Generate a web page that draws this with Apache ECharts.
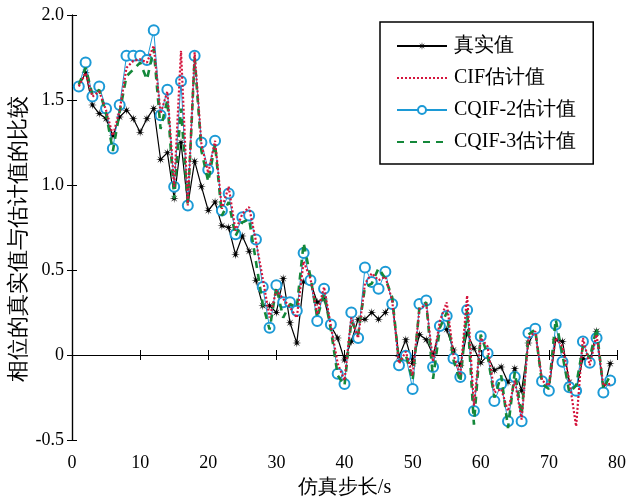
<!DOCTYPE html>
<html>
<head>
<meta charset="utf-8">
<script src="https://cdn.jsdelivr.net/npm/echarts@6/dist/echarts.min.js"></script>
<style>
  html, body { margin: 0; padding: 0; background: #fff; }
  #chart { width: 641px; height: 499px; }
</style>
</head>
<body>
<div id="chart"></div>
<script>
// 真实值
const trueVals = [
  1.58, 1.66, 1.47, 1.42, 1.39, 1.29, 1.40, 1.44, 1.39, 1.31,
  1.39, 1.45, 1.15, 1.19, 0.92, 1.25, 0.88, 1.14, 0.99, 0.85,
  0.90, 0.76, 0.75, 0.59, 0.70, 0.61, 0.44, 0.29, 0.29, 0.25,
  0.45, 0.19, 0.07, 0.43, 0.43, 0.31, 0.33, 0.17, 0.10, -0.03,
  0.08, 0.21, 0.21, 0.25, 0.21, 0.25, 0.31, -0.01, 0.09, -0.05,
  0.12, 0.09, 0.00, 0.16, 0.15, 0.03, -0.06, 0.13, 0.04, -0.045,
  -0.005, -0.09, -0.07, -0.16, -0.08, -0.21, 0.07, 0.14, -0.15, -0.20,
  0.09, 0.08, -0.16, -0.21, -0.02, -0.04, 0.14, -0.21, -0.05
];
// CIF估计值
const cifVals = [
  1.58, 1.66, 1.52, 1.55, 1.44, 1.29, 1.44, 1.69, 1.73, 1.74,
  1.72, 1.82, 1.42, 1.55, 0.99, 1.79, 0.88, 1.78, 1.24, 1.07,
  1.26, 0.86, 0.99, 0.73, 0.83, 0.87, 0.67, 0.45, 0.22, 0.38,
  0.33, 0.28, 0.22, 0.55, 0.45, 0.24, 0.40, 0.17, -0.05, -0.15,
  0.22, 0.10, 0.42, 0.48, 0.44, 0.46, 0.32, -0.05, 0.02, -0.12,
  0.27, 0.30, -0.04, 0.20, 0.31, 0.00, -0.12, 0.35, -0.30, 0.10,
  0.05, -0.22, -0.20, -0.33, -0.15, -0.38, 0.10, 0.14, -0.15, -0.18,
  0.10, 0.05, -0.15, -0.42, 0.10, -0.06, 0.12, -0.18, -0.17
];
// CQIF-2估计值
const cqif2Vals = [
  1.58, 1.72, 1.52, 1.58, 1.45, 1.215, 1.47, 1.76, 1.76, 1.76,
  1.735, 1.91, 1.41, 1.56, 0.99, 1.61, 0.88, 1.76, 1.25, 1.09,
  1.26, 0.85, 0.95, 0.71, 0.81, 0.82, 0.68, 0.40, 0.16, 0.41,
  0.31, 0.31, 0.26, 0.60, 0.44, 0.20, 0.39, 0.18, -0.11, -0.17,
  0.25, 0.10, 0.515, 0.43, 0.39, 0.49, 0.30, -0.06, -0.005, -0.20,
  0.30, 0.32, -0.07, 0.17, 0.23, -0.02, -0.13, 0.265, -0.33, 0.11,
  0.01, -0.27, -0.17, -0.39, -0.13, -0.39, 0.13, 0.155, -0.155, -0.21,
  0.18, -0.04, -0.19, -0.21, 0.08, -0.045, 0.10, -0.22, -0.15
];
// CQIF-3估计值
const cqif3Vals = [
  1.59, 1.69, 1.53, 1.56, 1.42, 1.20, 1.43, 1.64, 1.68, 1.72,
  1.62, 1.80, 1.33, 1.50, 0.92, 1.45, 0.88, 1.75, 1.20, 1.02,
  1.24, 0.82, 0.90, 0.70, 0.78, 0.80, 0.55, 0.30, 0.15, 0.40,
  0.22, 0.30, 0.28, 0.66, 0.46, 0.22, 0.36, 0.15, -0.12, -0.18,
  0.20, 0.12, 0.40, 0.42, 0.51, 0.45, 0.34, -0.04, 0.00, -0.15,
  0.28, 0.31, -0.14, 0.16, 0.25, -0.03, -0.16, 0.27, -0.41, 0.12,
  0.00, -0.25, -0.12, -0.43, -0.10, -0.35, 0.12, 0.15, -0.17, -0.20,
  0.21, 0.00, -0.22, -0.18, 0.05, -0.02, 0.16, -0.20, -0.12
];
const xTicks = [0, 10, 20, 30, 40, 50, 60, 70, 80];
const yTicks = [-0.5, 0, 0.5, 1.0, 1.5, 2.0];

const serif = '"Liberation Serif", "DejaVu Serif", serif';
const asterisk = 'path://M20 10 L12.77 11.15 L17.07 17.07 L11.15 12.77 L10 20 L8.85 12.77 L2.93 17.07 L7.23 11.15 L0 10 L7.23 8.85 L2.93 2.93 L8.85 7.23 L10 0 L11.15 7.23 L17.07 2.93 L12.77 8.85 Z';
const noMark = { color: 'rgba(0,0,0,0)', borderColor: 'rgba(0,0,0,0)', borderWidth: 0 };

const toPts = (arr) => arr.map((v, i) => [i + 1, v]);

const chart = echarts.init(document.getElementById('chart'));

const option = {
  animation: false,
  backgroundColor: '#fff',
  textStyle: { fontFamily: serif },
  grid: { left: 72, right: 24, top: 15, bottom: 59, outerBoundsMode: 'none', containLabel: false },
  legend: {
    orient: 'vertical',
    left: 380,
    top: 22,
    width: 227,
    padding: [14, 17, 12, 16],
    borderColor: '#000',
    borderWidth: 1.5,
    backgroundColor: '#fff',
    itemWidth: 50,
    itemHeight: 10,
    itemGap: 12,
    textStyle: { fontFamily: serif, fontSize: 20, color: '#000', padding: [0, 0, 0, 2] },
    data: [
      { name: '真实值' },
      { name: 'CIF估计值', itemStyle: noMark },
      { name: 'CQIF-2估计值' },
      { name: 'CQIF-3估计值', itemStyle: noMark }
    ]
  },
  xAxis: [
    {
      type: 'value',
      min: 0, max: 80, interval: 10,
      name: '仿真步长/s',
      nameLocation: 'middle',
      nameGap: 38,
      nameMoveOverlap: false,
      nameTextStyle: { fontFamily: serif, fontSize: 20, color: '#000' },
      axisLine: { lineStyle: { color: '#000', width: 1.2 } },
      axisTick: { inside: true, length: 5, lineStyle: { color: '#000' } },
      axisLabel: { fontFamily: serif, fontSize: 18, color: '#000', margin: 14 },
      splitLine: { show: false }
    },
    {
      type: 'value',
      position: 'top',
      min: 0, max: 80, interval: 10,
      axisLine: { lineStyle: { color: '#000', width: 1.2 } },
      axisTick: { inside: true, length: 5, lineStyle: { color: '#000' } },
      axisLabel: { show: false },
      splitLine: { show: false }
    }
  ],
  yAxis: [
    {
      type: 'value',
      min: -0.5, max: 2.0, interval: 0.5,
      name: '相位的真实值与估计值的比较',
      nameLocation: 'middle',
      nameGap: 42,
      nameMoveOverlap: false,
      nameTextStyle: { fontFamily: serif, fontSize: 22, color: '#000', padding: [0, 22, 0, 0] },
      axisLine: { show: true, lineStyle: { color: '#000', width: 1.2 } },
      axisTick: { show: true, inside: true, length: 5, lineStyle: { color: '#000' } },
      axisLabel: {
        fontFamily: serif, fontSize: 18, color: '#000', margin: 8,
        formatter: (v) => (v === 0 ? '0' : v.toFixed(1))
      },
      splitLine: { show: false }
    },
    {
      type: 'value',
      position: 'right',
      min: -0.5, max: 2.0, interval: 0.5,
      axisLine: { show: true, lineStyle: { color: '#000', width: 1.2 } },
      axisTick: { show: true, inside: true, length: 5, lineStyle: { color: '#000' } },
      axisLabel: { show: false },
      splitLine: { show: false }
    }
  ],
  series: [
    {
      name: '真实值',
      type: 'line',
      data: toPts(trueVals),
      symbol: asterisk,
      symbolSize: 9,
      z: 2,
      itemStyle: { color: '#000' },
      lineStyle: { color: '#000', width: 1.2 }
    },
    {
      name: 'CIF估计值',
      type: 'line',
      data: toPts(cifVals),
      symbol: 'none',
      z: 5,
      itemStyle: { color: '#d4143c' },
      lineStyle: { color: '#d4143c', width: 2.2, type: [2, 2] }
    },
    {
      name: 'CQIF-2估计值',
      type: 'line',
      data: toPts(cqif2Vals),
      symbol: 'emptyCircle',
      symbolSize: 10,
      z: 3,
      itemStyle: { color: '#1c9ad6', borderWidth: 1.2 },
      lineStyle: { color: '#1c9ad6', width: 1 }
    },
    {
      name: 'CQIF-3估计值',
      type: 'line',
      data: toPts(cqif3Vals),
      symbol: 'none',
      z: 4,
      itemStyle: { color: '#14883a' },
      lineStyle: { color: '#14883a', width: 2.6, type: [7, 6] }
    }
  ]
};

chart.setOption(option);
</script>
</body>
</html>
